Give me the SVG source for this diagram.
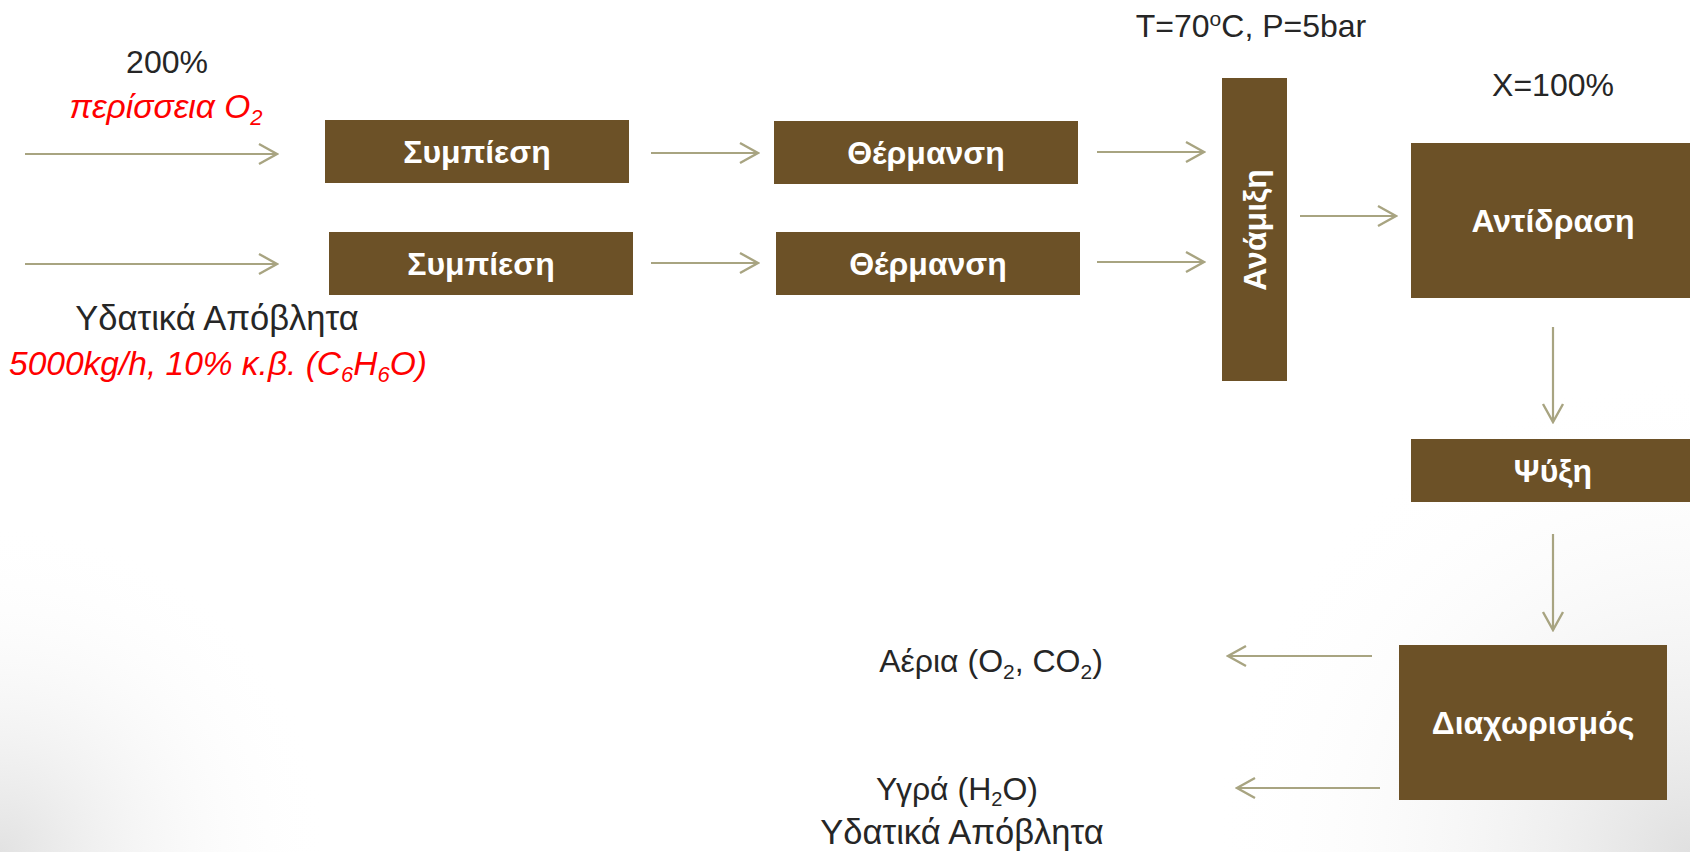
<svg xmlns="http://www.w3.org/2000/svg" width="1690" height="852" viewBox="0 0 1690 852">
<style>
.box{fill:#6c5127}
.lbl{font-family:"Liberation Sans",Arial,sans-serif;font-weight:bold;font-size:32px;fill:#ffffff;text-anchor:middle}
.txt{font-family:"Liberation Sans",Arial,sans-serif;font-size:32px;fill:#262626;text-anchor:middle}
.wide{font-size:34.5px}
.red{font-family:"Liberation Sans",Arial,sans-serif;font-style:italic;font-size:33.5px;fill:#ff0000;text-anchor:middle}
.arr{stroke:#a8a481;stroke-width:2.2;fill:none;marker-end:url(#ah)}
</style>
<defs>
<marker id="ah" viewBox="0 0 22 24" refX="20" refY="12" markerWidth="22" markerHeight="24" markerUnits="userSpaceOnUse" orient="auto">
<path d="M2,2 L20,12 L2,22" fill="none" stroke="#a8a481" stroke-width="2.4"/>
</marker>
<radialGradient id="gbl" cx="0" cy="852" r="330" gradientUnits="userSpaceOnUse">
<stop offset="0" stop-color="#e2e2e2"/>
<stop offset="1" stop-color="#ffffff" stop-opacity="0"/>
</radialGradient>
<radialGradient id="gbr" cx="1690" cy="852" r="480" gradientUnits="userSpaceOnUse">
<stop offset="0" stop-color="#e0e0e0"/>
<stop offset="1" stop-color="#ffffff" stop-opacity="0"/>
</radialGradient>
</defs>
<rect x="0" y="0" width="1690" height="852" fill="#ffffff"/>
<rect x="0" y="0" width="1690" height="852" fill="url(#gbl)"/>
<rect x="0" y="0" width="1690" height="852" fill="url(#gbr)"/>

<g id="connectors">
<line class="arr" x1="25" y1="154" x2="277" y2="154"/>
<line class="arr" x1="25" y1="264" x2="277" y2="264"/>
<line class="arr" x1="651" y1="153" x2="758" y2="153"/>
<line class="arr" x1="651" y1="263" x2="758" y2="263"/>
<line class="arr" x1="1097" y1="152" x2="1204" y2="152"/>
<line class="arr" x1="1097" y1="262" x2="1204" y2="262"/>
<line class="arr" x1="1300" y1="216" x2="1396" y2="216"/>
<line class="arr" x1="1553" y1="327" x2="1553" y2="422"/>
<line class="arr" x1="1553" y1="534" x2="1553" y2="630"/>
<line class="arr" x1="1372" y1="656" x2="1228" y2="656"/>
<line class="arr" x1="1380" y1="788" x2="1237" y2="788"/>
</g>

<g id="labels">
<text class="txt" x="167" y="73">200%</text>
<text class="red" x="166" y="118">περίσσεια O<tspan font-size="22" dy="7">2</tspan></text>
<text class="txt wide" x="217" y="330">Υδατικά Απόβλητα</text>
<text class="red" x="218" y="375">5000kg/h, 10% κ.β. (C<tspan font-size="22" dy="7">6</tspan><tspan dy="-7">H</tspan><tspan font-size="22" dy="7">6</tspan><tspan dy="-7">O)</tspan></text>
<text class="txt" x="1251" y="37">T=70<tspan font-size="21" dy="-11">o</tspan><tspan dy="11">C, P=5bar</tspan></text>
<text class="txt" x="1553" y="96">X=100%</text>
<text class="txt" x="991" y="672">Αέρια (O<tspan font-size="21" dy="7">2</tspan><tspan dy="-7">, CO</tspan><tspan font-size="21" dy="7">2</tspan><tspan dy="-7">)</tspan></text>
<text class="txt" x="957" y="800">Υγρά (H<tspan font-size="20" dy="6">2</tspan><tspan dy="-6">O)</tspan></text>
<text class="txt wide" x="962" y="844">Υδατικά Απόβλητα</text>
</g>

<g id="n_symp1"><rect class="box" x="325" y="120" width="304" height="63"/><text class="lbl" x="477" y="163">Συμπίεση</text></g>
<g id="n_symp2"><rect class="box" x="329" y="232" width="304" height="63"/><text class="lbl" x="481" y="275">Συμπίεση</text></g>
<g id="n_therm1"><rect class="box" x="774" y="121" width="304" height="63"/><text class="lbl" x="926" y="164">Θέρμανση</text></g>
<g id="n_therm2"><rect class="box" x="776" y="232" width="304" height="63"/><text class="lbl" x="928" y="275">Θέρμανση</text></g>
<g id="n_mix"><rect class="box" x="1222" y="78" width="65" height="303"/><text class="lbl" transform="translate(1266,230) rotate(-90)" x="0" y="0">Ανάμιξη</text></g>
<g id="n_react"><rect class="box" x="1411" y="143" width="279" height="155"/><text class="lbl" x="1553" y="232">Αντίδραση</text></g>
<g id="n_cool"><rect class="box" x="1411" y="439" width="279" height="63"/><text class="lbl" x="1553" y="482">Ψύξη</text></g>
<g id="n_sep"><rect class="box" x="1399" y="645" width="268" height="155"/><text class="lbl" x="1533" y="734">Διαχωρισμός</text></g>
</svg>
